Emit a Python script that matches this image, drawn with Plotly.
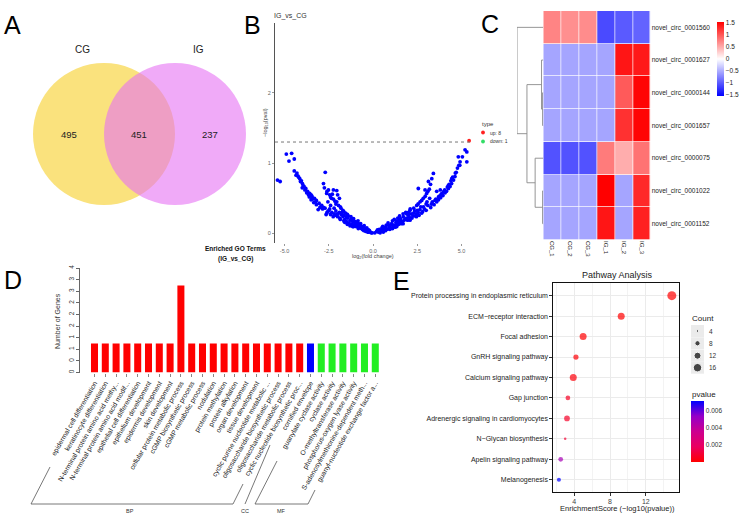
import math
import plotly.graph_objects as go

W, H = 745, 519
FONT = "Liberation Sans, Arial, sans-serif"

# ---------------- data ----------------
# A: Venn
venn_labels = ["CG", "IG"]
venn_only_cg = 495
venn_both = 451
venn_only_ig = 237

# B: volcano
vol_left_x = [-5.95, -5.6, -5.4, -5.25, -4.9, -4.6, -4.75, -4.45,
              -4.45, -4.3, -4.25, -4.14, -4.1, -3.99, -3.9, -3.8, -3.7, -3.58, -3.45, -3.31, -3.2, -3.05, -2.9,
              -2.71, -2.5, -2.33, -2.1, -1.88, -1.65, -1.39, -1.1, -0.83, -0.5, -0.25,
              -4.2, -4.05, -3.95, -3.85, -3.75, -3.6, -3.5, -3.35, -3.2, -3.0, -2.85, -2.6, -2.4, -3.1, -2.65, -2.25,
              -2.8, -2.75, -2.6, -2.52, -2.45, -2.35, -2.24, -2.15, -2.05, -1.95, -1.81, -1.7, -1.55, -1.4, -1.2,
              -1.0, -0.83, -0.65, -0.45, -0.3, -2.7, -2.24, -2.05, -2.3, -2.0, -1.9,
              -1.6, -1.5, -1.45, -1.35, -1.3, -1.25, -1.2, -1.15, -1.1, -1.05, -1.0, -0.95, -0.9, -0.85, -0.8,
              -0.75, -0.7, -0.65, -0.6, -0.55, -0.5, -0.45, -0.4, -0.35, -0.3, -0.25, -0.2, -0.15, -0.1, -0.05,
              -1.7, -1.8, -1.9, -2.0, -2.1, -2.2, -1.75, -1.65, -1.5, -2.4, -2.55,
              -3.65, -3.4, -3.25, -2.95, -2.8, -2.55, -2.45, -2.2, -2.0, -1.85, -1.6, -1.45, -1.3, -1.15,
              -2.62, -2.4, -2.1, -1.85, -1.65, -1.45, -1.25, -1.05, -0.9, -0.7, -0.55, -0.4, -4.0, -3.5, -4.35]
vol_left_y = [0.89, 0.85, 0.76, 0.74, 1.13, 1.14, 1.03, 1.06,
              0.89, 0.86, 0.82, 0.78, 0.74, 0.71, 0.67, 0.64, 0.6, 0.57, 0.53, 0.5, 0.47, 0.43, 0.4,
              0.36, 0.33, 0.3, 0.26, 0.22, 0.18, 0.14, 0.1, 0.07, 0.04, 0.02,
              0.8, 0.75, 0.68, 0.62, 0.58, 0.52, 0.48, 0.44, 0.41, 0.37, 0.35, 0.3, 0.27, 0.34, 0.27, 0.24,
              0.71, 0.65, 0.6, 0.62, 0.55, 0.5, 0.49, 0.46, 0.45, 0.4, 0.36, 0.33, 0.29, 0.25, 0.21,
              0.17, 0.14, 0.1, 0.07, 0.04, 0.87, 0.62, 0.61, 0.56, 0.55, 0.5,
              0.2, 0.17, 0.22, 0.15, 0.19, 0.24, 0.13, 0.17, 0.21, 0.12, 0.14, 0.1, 0.12, 0.18, 0.09,
              0.11, 0.14, 0.07, 0.06, 0.09, 0.11, 0.05, 0.06, 0.08, 0.02, 0.05, 0.04, 0.02, 0.01, 0.01,
              0.24, 0.27, 0.3, 0.28, 0.32, 0.36, 0.3, 0.26, 0.24, 0.4, 0.45,
              0.55, 0.49, 0.45, 0.38, 0.37, 0.31, 0.35, 0.28, 0.24, 0.2, 0.16, 0.13, 0.11, 0.1,
              0.57, 0.52, 0.42, 0.38, 0.31, 0.27, 0.2, 0.16, 0.15, 0.1, 0.05, 0.03, 0.65, 0.55, 0.83]
vol_right_x = [4.82, 4.92, 4.85, 4.77, 4.7, 4.63, 4.55, 4.44, 4.35, 4.26, 4.15, 4.07, 3.95, 3.82, 3.7, 3.6,
               3.45, 3.26, 3.0, 2.75, 2.45, 2.09, 1.7, 1.34, 0.95, 0.58,
               4.5, 4.4, 4.3, 4.2, 4.0, 3.9, 3.75, 3.55, 3.35, 3.1,
               5.2, 5.3, 4.9, 5.05, 5.3, 5.85, 6.42, 6.61, 6.72,
               3.41, 3.32, 3.25, 3.18, 3.1, 3.03, 2.95, 2.84, 2.75, 2.66, 2.55, 2.47, 2.3, 2.09, 1.9, 1.71,
               1.5, 1.34, 1.15, 0.96, 0.7, 0.4, 2.56, 3.13, 2.94,
               0.1, 0.2, 0.3, 0.35, 0.45, 0.5, 0.55, 0.6, 0.7, 0.75, 0.8, 0.85, 0.9, 1.0, 1.05, 1.1, 1.15,
               1.2, 1.25, 1.3, 1.4, 1.45, 1.5, 1.55, 1.6, 1.7, 1.8, 1.85, 1.95, 2.0, 2.1, 2.2, 2.3, 2.4,
               2.5, 2.6, 2.7, 2.8, 2.9, 3.0, 3.6, 3.8,
               0.25, 0.65, 0.9, 1.1, 1.25, 1.35, 1.55, 1.65, 1.75, 1.9, 2.05, 2.15, 2.25, 2.35, 2.45, 2.55,
               2.65, 2.85, 3.05, 3.2, 3.3, 3.5, 3.7, 3.85, 4.05, 4.25, 4.45, 4.65, 2.0, 1.45, 1.0]
vol_right_y = [1.09, 1.02, 0.97, 0.93, 0.87, 0.81, 0.76, 0.71, 0.67, 0.64, 0.6, 0.58, 0.54, 0.51, 0.48, 0.45,
               0.41, 0.37, 0.33, 0.29, 0.24, 0.19, 0.14, 0.1, 0.06, 0.02,
               0.8, 0.75, 0.7, 0.66, 0.6, 0.57, 0.53, 0.49, 0.45, 0.4,
               1.19, 1.16, 0.97, 1.09, 1.02, 0.87, 1.0, 1.05, 1.07,
               0.855, 0.78, 0.7, 0.63, 0.6, 0.57, 0.53, 0.5, 0.47, 0.45, 0.42, 0.4, 0.36, 0.33, 0.28, 0.24,
               0.19, 0.14, 0.1, 0.07, 0.04, 0.01, 0.64, 0.74, 0.62,
               0.01, 0.03, 0.02, 0.06, 0.04, 0.08, 0.1, 0.05, 0.09, 0.12, 0.06, 0.15, 0.11, 0.08, 0.14, 0.18, 0.12,
               0.2, 0.09, 0.16, 0.22, 0.13, 0.25, 0.18, 0.14, 0.28, 0.2, 0.3, 0.19, 0.26, 0.35, 0.22, 0.29, 0.25,
               0.33, 0.26, 0.38, 0.31, 0.35, 0.42, 0.6, 0.62,
               0.05, 0.07, 0.08, 0.07, 0.12, 0.18, 0.21, 0.17, 0.19, 0.22, 0.23, 0.28, 0.25, 0.32, 0.28, 0.3,
               0.34, 0.38, 0.45, 0.5, 0.42, 0.47, 0.52, 0.56, 0.62, 0.68, 0.78, 0.86, 0.3, 0.17, 0.12]
vol_up_x = [5.43, 5.65, 5.78, 7.06]
vol_up_y = [1.32, 1.42, 1.53, 2.87]
vol_down_x = [-6.04]
vol_down_y = [2.19]
vol_n_up, vol_n_down = 8, 1
p_threshold = 0.05

# C: heatmap
hm_rows = ["novel_circ_0001560", "novel_circ_0001627", "novel_circ_0000144", "novel_circ_0001657",
           "novel_circ_0000075", "novel_circ_0001022", "novel_circ_0001152"]
hm_cols = ["CG_1", "CG_2", "CG_3", "IG_1", "IG_2", "IG_3"]
hm_z = [[0.75, 0.68, 0.7, -1.1, -1.0, -0.95],
        [-0.55, -0.55, -0.55, -0.55, 1.42, 1.4],
        [-0.55, -0.55, -0.55, -0.55, 1.0, 1.52],
        [-0.55, -0.55, -0.55, -0.55, 1.25, 1.52],
        [-1.05, -1.05, -1.05, 0.8, 0.5, 0.85],
        [-0.55, -0.55, -0.55, 1.55, -0.55, 1.3],
        [-0.55, -0.55, -0.55, 1.42, -0.55, 1.35]]
# row dendrogram: (left, right, merge height), leaves are row indices
hm_tree = (0, ((1, (2, 3, 0.1), 0.25), (4, (5, 6, 0.1), 1.15), 2.3), 3.7)

# D: GO bars
go_terms = ["epidermal cell differentiation", "keratinocyte differentiation",
            "N-terminal protein amino acid methy...", "N-terminal protein amino acid modif...",
            "epithelial cell differentiation", "epithelium development", "epidermis development",
            "skin development", "cellular protein metabolic process", "cGMP biosynthetic process",
            "cGMP metabolic process", "nodulation", "protein methylation", "protein alkylation",
            "organ development", "tissue development", "cyclic purine nucleotide metabolic ...",
            "oligosaccharide biosynthetic process", "oligosaccharide metabolic process",
            "cyclic nucleotide biosynthetic proc...", "cornified envelope", "guanylate cyclase activity",
            "cyclase activity", "O-methyltransferase activity", "phosphorus-oxygen lyase activity",
            "S-adenosylmethionine-dependent meth...", "guanyl-nucleotide exchange factor a..."]
go_counts = [1, 1, 1, 1, 1, 1, 1, 1, 3, 1, 1, 1, 1, 1, 1, 1, 1, 1, 1, 1, 1, 1, 1, 1, 1, 1, 1]
go_category = ["BP"] * 20 + ["CC"] + ["MF"] * 6
go_yticks = [0, 0.4, 0.8, 1.2, 1.6, 2.0, 2.4, 2.8, 3.2, 3.6]
go_yticktext = ["0", "0", "1", "1", "2", "2", "2", "3", "3", "4"]

# E: pathway
pw_terms = ["Protein processing in endoplasmic reticulum", "ECM\u2212receptor interaction", "Focal adhesion",
            "GnRH signaling pathway", "Calcium signaling pathway", "Gap junction",
            "Adrenergic signaling in cardiomyocytes", "N\u2212Glycan biosynthesis", "Apelin signaling pathway",
            "Melanogenesis"]
pw_score = [14.9, 9.25, 5.0, 4.2, 3.9, 3.3, 3.2, 3.0, 2.5, 2.3]
pw_count = [18, 12, 12, 8, 12, 7, 9, 4, 7, 6]
pw_pvalue = [1e-15, 5e-10, 1e-5, 9e-5, 1.8e-4, 6.5e-4, 7.5e-4, 1.0e-3, 4.8e-3, 7.2e-3]
pw_count_legend = [4, 8, 12, 16]
pw_pv_ticks = [0.002, 0.004, 0.006]


# ---------------- helpers ----------------
def xd(a, b):
    return [a / W, b / W]


def yd(top, bottom):
    return [1 - bottom / H, 1 - top / H]


def PX(x):
    return x / W


def PY(y):
    return 1 - y / H


fig = go.Figure()
annotations = []
shapes = []


def ann(x, y, text, size, color="#222", xanchor="center", angle=0, bold=False):
    annotations.append(dict(x=PX(x), y=PY(y), xref="paper", yref="paper", text=("<b>%s</b>" % text) if bold else text,
                            showarrow=False, xanchor=xanchor, yanchor="middle", textangle=angle,
                            font=dict(family=FONT, size=size, color=color)))


# ---------------- A: Venn ----------------
shapes.append(dict(type="circle", xref="x6", yref="y6", x0=33, x1=175, y0=63, y1=205,
                   fillcolor="rgb(250,226,125)", line=dict(width=0), layer="below"))
shapes.append(dict(type="circle", xref="x6", yref="y6", x0=104, x1=246, y0=63, y1=205,
                   fillcolor="rgb(230,113,243)", opacity=0.6, line=dict(width=0), layer="below"))
ann(82, 50, venn_labels[0], 10)
ann(198, 50, venn_labels[1], 10)
ann(69, 135, str(venn_only_cg), 9.5)
ann(139, 135, str(venn_both), 9.5)
ann(210, 135, str(venn_only_ig), 9.5)

# ---------------- B: volcano ----------------
fig.add_trace(go.Scatter(x=vol_left_x + vol_right_x, y=vol_left_y + vol_right_y, mode="markers",
                         marker=dict(color="#0000FF", size=3.8), cliponaxis=False, xaxis="x", yaxis="y",
                         hoverinfo="skip"))
fig.add_trace(go.Scatter(x=vol_up_x, y=vol_up_y, mode="markers", marker=dict(color="#FF2020", size=3.8),
                         cliponaxis=False, xaxis="x", yaxis="y", hoverinfo="skip"))
fig.add_trace(go.Scatter(x=vol_down_x, y=vol_down_y, mode="markers", marker=dict(color="#33DD66", size=3.8),
                         cliponaxis=False, xaxis="x", yaxis="y", hoverinfo="skip"))
thr = -math.log10(p_threshold)
shapes.append(dict(type="line", xref="x domain", yref="y", x0=0, x1=1, y0=thr, y1=thr,
                   line=dict(color="#777", width=1, dash="dot")))
ann(290, 16, "IG_vs_CG", 7, "#333")
ann(266, 123, "\u2212log<sub>10</sub>(pval)", 5.5, "#444", angle=-90)
ann(373, 256, "log<sub>2</sub>(fold change)", 5.5, "#444")
ann(480, 124, "type", 6, "#333", xanchor="left")
ann(488, 132.5, "up: %d" % vol_n_up, 5, "#333", xanchor="left")
ann(488, 141.5, "down: %d" % vol_n_down, 5, "#333", xanchor="left")
fig.add_trace(go.Scatter(x=[483, 483], y=[132.5, 141.5], mode="markers",
                         marker=dict(color=["#FF2020", "#33DD66"], size=3.8),
                         xaxis="x6", yaxis="y6", hoverinfo="skip"))

# ---------------- C: heatmap ----------------
fig.add_trace(go.Heatmap(z=hm_z, x=list(range(len(hm_cols))), y=list(range(len(hm_rows))),
                         xaxis="x2", yaxis="y2", colorscale=[[0, "#0000FF"], [0.5, "#FFFFFF"], [1, "#FF0000"]],
                         zmin=-1.55, zmax=1.55, xgap=0.7, ygap=0.7, hoverinfo="skip",
                         colorbar=dict(x=PX(717), xanchor="left", y=PY(58.7), yanchor="middle", len=74 / H,
                                       thickness=6.5, xpad=0, ypad=0, outlinewidth=0, ticks="",
                                       tickvals=[-1.5, -1, -0.5, 0, 0.5, 1, 1.5],
                                       ticktext=["\u22121.5", "\u22121", "\u22120.5", "0", "0.5", "1", "1.5"],
                                       tickfont=dict(family=FONT, size=6.5, color="#222"))))

dx, dy = [], []


def walk(node):
    if isinstance(node, int):
        return float(node), 0.0
    left, right, h = node
    yl, hl = walk(left)
    yr, hr = walk(right)
    dx.extend([hl, h, h, hr, None])
    dy.extend([yl, yl, yr, yr, None])
    return (yl + yr) / 2, h


walk(hm_tree)
fig.add_trace(go.Scatter(x=dx, y=dy, mode="lines", line=dict(color="#8a8a8a", width=0.9),
                         xaxis="x3", yaxis="y3", hoverinfo="skip"))

# ---------------- D: GO bars ----------------
cat_colors = {"BP": "#FF0000", "CC": "#0000FF", "MF": "#22EE22"}
fig.add_trace(go.Bar(x=list(range(len(go_terms))), y=go_counts, width=0.65,
                     marker=dict(color=[cat_colors[c] for c in go_category], line=dict(width=0)),
                     xaxis="x4", yaxis="y4", hoverinfo="skip"))
ann(57, 321, "Number of Genes", 7, "#333", angle=-90)
ann(235, 248.5, "Enriched GO Terms", 6.5, "#111", bold=True)
ann(235, 259, "(IG_vs_CG)", 6.5, "#111", bold=True)
for (x0, y0, x1, y1) in [(31, 504, 50, 467), (31, 504, 233, 504), (233, 504, 243, 484),
                         (245, 504, 270, 445),
                         (255, 504, 277, 461), (255, 504, 308, 504), (308, 504, 315, 490)]:
    shapes.append(dict(type="line", xref="x6", yref="y6", x0=x0, y0=y0, x1=x1, y1=y1,
                       line=dict(color="#555", width=0.8)))
ann(130, 511, "BP", 5.5, "#333")
ann(245, 511, "CC", 5.5, "#333")
ann(281, 511, "MF", 5.5, "#333")

# ---------------- E: pathway ----------------
cmin_, cmax_ = min(pw_count), max(pw_count)


def dot_size(c):
    return math.sqrt(2.5 ** 2 + (9.0 ** 2 - 2.5 ** 2) * (c - cmin_) / (cmax_ - cmin_))


pv_scale = [[0, "#FF0000"], [0.25, "#EA0060"], [0.5, "#CC0090"], [0.75, "#9500C8"], [1, "#0000FF"]]
fig.add_trace(go.Scatter(x=pw_score, y=pw_terms, mode="markers", xaxis="x5", yaxis="y5", hoverinfo="skip",
                         marker=dict(size=[dot_size(c) for c in pw_count], color=pw_pvalue,
                                     colorscale=pv_scale, cmin=min(pw_pvalue), cmax=max(pw_pvalue),
                                     line=dict(width=0),
                                     colorbar=dict(x=PX(690.7), xanchor="left", y=PY(431.2), yanchor="middle",
                                                   len=61 / H, thickness=12.6, xpad=0, ypad=0, outlinewidth=0,
                                                   ticks="", tickvals=pw_pv_ticks,
                                                   ticktext=["%.3f" % v for v in pw_pv_ticks],
                                                   tickfont=dict(family=FONT, size=6.5, color="#333")))))
ann(617, 275, "Pathway Analysis", 9, "#222")
ann(617, 508, "EnrichmentScore (\u2212log10(pvalue))", 7.5, "#222")
ann(690, 318, "Count", 8, "#222", xanchor="left")
ann(690, 394, "pvalue", 8, "#222", xanchor="left")
key_y = [331, 343.3, 355.7, 367.7]
for ky in key_y:
    shapes.append(dict(type="rect", xref="x6", yref="y6", x0=691, x1=704, y0=ky - 6, y1=ky + 6,
                       fillcolor="#EBEBEB", line=dict(width=0), layer="below"))
fig.add_trace(go.Scatter(x=[697.5] * 4, y=key_y, mode="markers", xaxis="x6", yaxis="y6", hoverinfo="skip",
                         marker=dict(color="black", size=[dot_size(c) for c in pw_count_legend])))
for ky, c in zip(key_y, pw_count_legend):
    ann(707, ky, str(c), 6.5, "#333", xanchor="left")

# ---------------- panel letters ----------------
for (lx, ly, t) in [(13, 25, "A"), (252, 25, "B"), (490, 24, "C"), (13, 280, "D"), (402, 281, "E")]:
    ann(lx, ly, t, 25, "#000")

tf = dict(family=FONT, size=5.5, color="#666")
layout = dict(
    width=W, height=H, template="none", showlegend=False,
    margin=dict(l=0, r=0, t=0, b=0, autoexpand=False),
    paper_bgcolor="white", plot_bgcolor="rgba(0,0,0,0)",
    font=dict(family=FONT, color="#333"),
    # B
    xaxis=dict(domain=xd(275, 470), range=[-5.54, 5.48], anchor="y", showgrid=False, zeroline=False,
               showline=False, tickvals=[-5, -2.5, 0, 2.5, 5], ticktext=["-5.0", "-2.5", "0.0", "2.5", "5.0"],
               ticks="outside", ticklen=2, tickcolor="#999", tickfont=tf),
    yaxis=dict(domain=yd(23, 243), range=[-0.135, 2.994], anchor="x", showgrid=False, zeroline=False,
               showline=True, linecolor="#555", linewidth=1, tickvals=[0, 1, 2], ticks="outside", ticklen=2,
               tickcolor="#999", tickfont=tf),
    # C heatmap
    xaxis2=dict(domain=xd(543.3, 650.7), range=[-0.5, 5.5], anchor="y2", showgrid=False, zeroline=False,
                showline=False, tickvals=list(range(len(hm_cols))), ticktext=hm_cols, tickangle=90, ticks="",
                tickfont=dict(family=FONT, size=6, color="#222")),
    yaxis2=dict(domain=yd(11, 240), range=[6.5, -0.5], anchor="x2", side="right", showgrid=False,
                zeroline=False, showline=False, tickvals=list(range(len(hm_rows))), ticktext=hm_rows, ticks="",
                tickfont=dict(family=FONT, size=6.5, color="#222")),
    xaxis3=dict(domain=xd(517, 543.3), range=[3.7, 0], anchor="y3", visible=False),
    yaxis3=dict(domain=yd(11, 240), range=[6.5, -0.5], anchor="x3", visible=False),
    # D bars
    xaxis4=dict(domain=xd(80, 381), range=[-1.343, 26.53], anchor="y4", showgrid=False, zeroline=False,
                showline=False, tickvals=list(range(len(go_terms))), ticktext=go_terms, tickangle=-60,
                ticks="outside", ticklen=3, tickcolor="#888",
                tickfont=dict(family=FONT, size=6.8, color="#222")),
    yaxis4=dict(domain=yd(268, 372.5), range=[0, 3.6], anchor="x4", showgrid=False, zeroline=False,
                showline=True, linecolor="#666", linewidth=0.8, tickvals=go_yticks,
                ticktext=go_yticktext,
                tickangle=-90, ticks="outside", ticklen=3, tickcolor="#666",
                tickfont=dict(family=FONT, size=6.5, color="#333")),
    # E pathway
    xaxis5=dict(domain=xd(553, 679), range=[1.64, 15.7], anchor="y5", showgrid=True, gridcolor="#EBEBEB",
                gridwidth=0.8, zeroline=False, showline=True, mirror=True, linecolor="#111", linewidth=1.3,
                tickvals=[4, 8, 12], ticks="outside", ticklen=2.5, tickcolor="#333",
                minor=dict(showgrid=True, gridcolor="#F3F3F3", gridwidth=0.5, tickvals=[2, 6, 10, 14]),
                tickfont=dict(family=FONT, size=7, color="#444")),
    yaxis5=dict(domain=yd(283, 492), range=[9.6, -0.62], anchor="x5", type="category",
                categoryorder="array", categoryarray=pw_terms, showgrid=True, gridcolor="#EBEBEB",
                gridwidth=0.8, zeroline=False, showline=True, mirror=True, linecolor="#111", linewidth=1.3,
                ticks="outside", ticklen=2.5, tickcolor="#333",
                tickfont=dict(family=FONT, size=7, color="#222")),
    # overlay in pixel coordinates
    xaxis6=dict(domain=[0, 1], range=[0, W], anchor="y6", visible=False, fixedrange=True),
    yaxis6=dict(domain=[0, 1], range=[H, 0], anchor="x6", visible=False, fixedrange=True),
    annotations=annotations, shapes=shapes,
)
fig.update_layout(**layout)
fig.write_html("out.html", config={"displayModeBar": False},
               post_script="document.body.style.margin='0';document.body.style.overflow='hidden';")
